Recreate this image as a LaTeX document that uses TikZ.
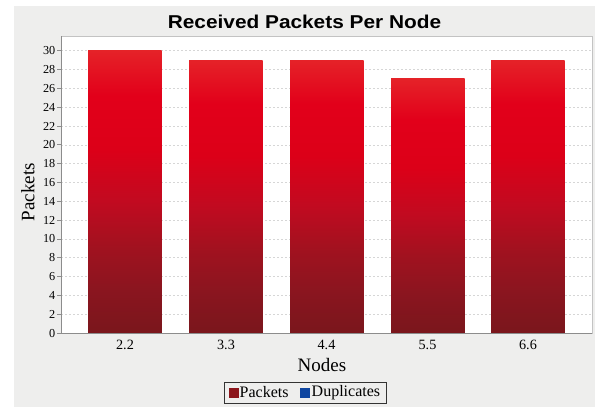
\documentclass[tikz,border=0pt]{standalone}
\usepackage{fontspec}
\setmainfont{Liberation Serif}
\newfontfamily\titlefont{Liberation Sans}
\definecolor{chartbg}{RGB}{238,238,237}
\definecolor{gridc}{RGB}{214,214,214}
\definecolor{plotborder}{RGB}{195,195,195}
\definecolor{axisc}{RGB}{140,140,140}
\definecolor{packetred}{RGB}{140,22,28}
\definecolor{dupblue}{RGB}{15,70,160}
\definecolor{bA}{RGB}{122,22,28}
\definecolor{bB}{RGB}{138,21,31}
\definecolor{bC}{RGB}{160,18,31}
\definecolor{bD}{RGB}{194,10,32}
\definecolor{bE}{RGB}{220,0,24}
\definecolor{bF}{RGB}{226,0,26}
\definecolor{bG}{RGB}{229,34,40}
\pgfdeclareverticalshading{barshade}{100bp}{color(0bp)=(bA); color(25bp)=(bA); color(32.5bp)=(bB); color(40bp)=(bC); color(48.5bp)=(bD); color(57.5bp)=(bE); color(67bp)=(bF); color(75bp)=(bG); color(100bp)=(bG)}
\tikzset{
  gridline/.style={draw=gridc, line width=0.6pt, dash pattern=on 2pt off 2pt},
  barfill/.style={shading=barshade},
  ytick/.style={anchor=east, inner sep=0pt, font=\fontsize{12.2}{14}\selectfont},
  xtick/.style={inner sep=0pt, font=\fontsize{14.2}{16}\selectfont},
  axlabel/.style={inner sep=0pt, font=\fontsize{19}{22}\selectfont},
  legtext/.style={anchor=west, inner sep=0pt, font=\fontsize{16}{18}\selectfont},
}
\begin{document}
\begin{tikzpicture}[x=1pt,y=-1pt]
\useasboundingbox (0,0) rectangle (595,407);
\fill[white] (0,0) rectangle (595,407);
\fill[chartbg] (14,6) rectangle (595,407);
% plot area
\fill[white] (61,36) rectangle (592,333);
\foreach \v in {2,4,...,30} \draw[gridline] (61,{333-9.41*\v}) -- (592,{333-9.41*\v});
% bars
\foreach \xl/\v in {88/30,189/29,290/29,391/27,491/29}
  \shade[barfill] (\xl,333) rectangle ({\xl+73.5},{333-9.41*\v});
\draw[plotborder, line width=0.8pt] (61,36) rectangle (592,333);
\draw[axisc, line width=0.8pt] (61,36) -- (61,333) -- (592,333);
% y ticks
\foreach \v in {0,2,...,30} {
  \draw[axisc, line width=0.8pt] (57,{333-9.41*\v}) -- (61,{333-9.41*\v});
  \node[ytick] (yt\v) at (55.5,{333-9.41*\v}) {\v};
}
% x tick labels
\foreach \c/\t [count=\i] in {125/2.2,226/3.3,326.5/4.4,427.5/5.5,528/6.6}
  \node[xtick] (xt\i) at (\c,345) {\t};
% axis labels
\node[axlabel, rotate=90] (ylab) at (28,192) {Packets};
\node[axlabel] (xlab) at (322,365) {Nodes};
% title
\node[inner sep=0pt] (title) at (304.5,21.5) {\scalebox{1.12}[1]{\titlefont\bfseries\fontsize{18.6}{22}\selectfont Received Packets Per Node}};
% legend
\draw[black!80, line width=0.8pt] (224,382) rectangle (386.5,403.5);
\fill[packetred] (228.5,387.5) rectangle (238.5,397.5);
\node[legtext] (lp) at (239.5,392.5) {Packets};
\fill[dupblue] (300,387.5) rectangle (310,397.5);
\node[legtext] (ld) at (311.5,392.5) {Duplicates};
\end{tikzpicture}
\end{document}
